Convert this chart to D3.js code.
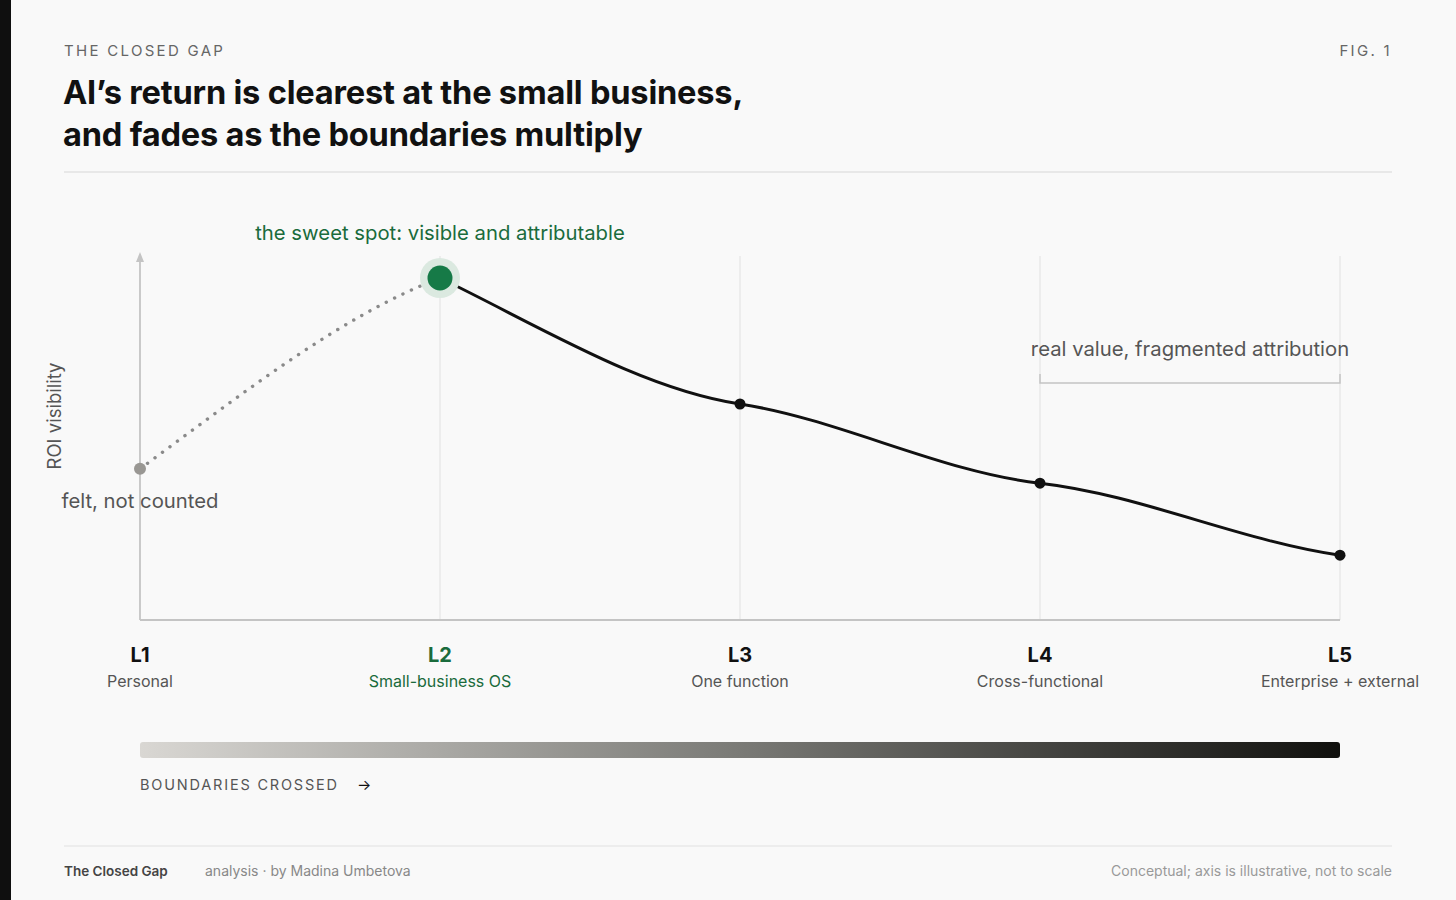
<!DOCTYPE html>
<html><head><meta charset="utf-8">
<script src="https://cdn.jsdelivr.net/npm/d3@7/dist/d3.min.js"></script>
<style>
html,body{margin:0;padding:0;background:#f9f9f9;}
svg{display:block;font-family:Inter,"Noto Sans",sans-serif;}
</style></head>
<body>
<svg id="c" width="1456" height="900"></svg>
<script>
const levels = ["L1","L2","L3","L4","L5"];
const levelNames = ["Personal","Small-business OS","One function","Cross-functional","Enterprise + external"];
const roiVisibility = [42, 95, 60, 38, 18];
const titleLines = ["AI’s return is clearest at the small business,","and fades as the boundaries multiply"];

const svg = d3.select("#c");
const W = 1456, H = 900;
svg.append("rect").attr("width",W).attr("height",H).attr("fill","#f9f9f9");
svg.append("rect").attr("width",11).attr("height",H).attr("fill","#0f0f0f");
const defs = svg.append("defs");

// eased hermite curve (gentle tangents at the points)
function easedCurve(context){
  let p;
  const START_K = 1.15, END_K = 0.6, INNER_K = 0.45;
  return {
    areaStart(){}, areaEnd(){},
    lineStart(){ p = []; },
    point(x,y){ p.push([+x,+y]); },
    lineEnd(){
      const n = p.length; if(!n) return;
      const m = p.map((q,i)=>{
        if(n===1) return 0;
        if(i===0) return START_K*(p[1][1]-q[1])/(p[1][0]-q[0]);
        if(i===n-1) return END_K*(q[1]-p[i-1][1])/(q[0]-p[i-1][0]);
        return INNER_K*(p[i+1][1]-p[i-1][1])/(p[i+1][0]-p[i-1][0]);
      });
      context.moveTo(p[0][0],p[0][1]);
      for(let i=1;i<n;i++){
        const [x0,y0]=p[i-1],[x1,y1]=p[i],dx=x1-x0;
        context.bezierCurveTo(x0+dx/3,y0+m[i-1]*dx/3,x1-dx/3,y1-m[i]*dx/3,x1,y1);
      }
    }
  };
}

// header
svg.append("text").attr("x",64).attr("y",56).attr("font-size",15).attr("letter-spacing",2.3).attr("fill","#666").text("THE CLOSED GAP");
svg.append("text").attr("x",1392).attr("y",56).attr("text-anchor","end").attr("font-size",15).attr("letter-spacing",2.3).attr("fill","#666").text("FIG. 1");
svg.append("text").attr("font-size",32.6).attr("font-weight",700).attr("fill","#111").attr("letter-spacing",-0.2)
  .selectAll("tspan").data(titleLines).join("tspan").attr("x",63).attr("y",(d,i)=>104+i*42).text(d=>d);
svg.append("line").attr("x1",64).attr("x2",1392).attr("y1",172).attr("y2",172).attr("stroke","#e2e2e2").attr("stroke-width",1.5);

// scales
const x = d3.scalePoint().domain(levels).range([140,1340]);
const y = d3.scaleLinear().domain([0,100]).range([620,260]);
const pts = levels.map((l,i)=>({l, name:levelNames[i], v:roiVisibility[i]}));

// gridlines
svg.append("g").selectAll("line").data(levels.slice(1)).join("line")
  .attr("x1",d=>x(d)).attr("x2",d=>x(d)).attr("y1",256).attr("y2",620)
  .attr("stroke","#e8e8e8").attr("stroke-width",1.5);

// axes
svg.append("line").attr("x1",140).attr("x2",1340).attr("y1",620).attr("y2",620).attr("stroke","#c4c4c4").attr("stroke-width",1.8);
svg.append("line").attr("x1",140).attr("x2",140).attr("y1",620).attr("y2",262).attr("stroke","#c4c4c4").attr("stroke-width",1.8);
svg.append("path").attr("d","M140,252 L136,262 L144,262 Z").attr("fill","#c4c4c4");
svg.append("text").attr("transform","translate(61,416) rotate(-90)").attr("text-anchor","middle").attr("font-size",18.5).attr("fill","#555").text("ROI visibility");

// bracket
const bx1 = x("L4"), bx2 = x("L5");
svg.append("path").attr("d",`M${bx1},374 V383 H${bx2} V374`).attr("fill","none").attr("stroke","#c4c4c4").attr("stroke-width",1.5);
svg.append("text").attr("x",(bx1+bx2)/2).attr("y",356).attr("text-anchor","middle").attr("font-size",20.3).attr("fill","#555").text("real value, fragmented attribution");

// dotted segment L1->L2
const line = d3.line().x(d=>x(d.l)).y(d=>y(d.v)).curve(easedCurve);
defs.append("clipPath").attr("id","clipL").append("rect").attr("x",0).attr("y",0).attr("width",x("L2")-14).attr("height",H);
svg.append("path").attr("d",line(pts.slice(0,2))).attr("clip-path","url(#clipL)")
  .attr("fill","none").attr("stroke","#8a8a8a").attr("stroke-width",3.4).attr("stroke-linecap","round").attr("stroke-dasharray","0.1 9.2");

// solid segment L2..L5
svg.append("path").attr("d",line(pts.slice(1))).attr("fill","none").attr("stroke","#111").attr("stroke-width",3);

// points
svg.append("circle").attr("cx",x("L1")).attr("cy",y(pts[0].v)).attr("r",6).attr("fill","#999793");
svg.append("circle").attr("cx",x("L2")).attr("cy",y(pts[1].v)).attr("r",20).attr("fill","#dbe9e0");
svg.append("circle").attr("cx",x("L2")).attr("cy",y(pts[1].v)).attr("r",12.5).attr("fill","#167a47");
svg.append("g").selectAll("circle").data(pts.slice(2)).join("circle")
  .attr("cx",d=>x(d.l)).attr("cy",d=>y(d.v)).attr("r",5.5).attr("fill","#111");

// annotations
svg.append("text").attr("x",x("L2")).attr("y",240).attr("text-anchor","middle").attr("font-size",20.3).attr("fill","#1a6b3c").text("the sweet spot: visible and attributable");
svg.append("text").attr("x",x("L1")).attr("y",508).attr("text-anchor","middle").attr("font-size",20.3).attr("fill","#555").text("felt, not counted");

// x labels
const xl = svg.append("g").selectAll("g").data(pts).join("g").attr("transform",d=>`translate(${x(d.l)},0)`);
xl.append("text").attr("y",662).attr("text-anchor","middle").attr("font-size",20).attr("font-weight",700)
  .attr("fill",d=>d.l==="L2"?"#1a6b3c":"#111").text(d=>d.l);
xl.append("text").attr("y",687).attr("text-anchor","middle").attr("font-size",16)
  .attr("fill",d=>d.l==="L2"?"#1a6b3c":"#555").text(d=>d.name);

// gradient bar
const grad = defs.append("linearGradient").attr("id","g1").attr("x1","0").attr("x2","1").attr("y1","0").attr("y2","0");
grad.append("stop").attr("offset","0").attr("stop-color","#d9d7d3");
grad.append("stop").attr("offset","0.5").attr("stop-color","#7a7a76");
grad.append("stop").attr("offset","1").attr("stop-color","#11110e");
svg.append("rect").attr("x",140).attr("y",742).attr("width",1200).attr("height",16).attr("rx",3).attr("fill","url(#g1)");
svg.append("text").attr("x",140).attr("y",790).attr("font-size",14.5).attr("letter-spacing",1.8).attr("fill","#555").text("BOUNDARIES CROSSED");
svg.append("text").attr("x",357).attr("y",790).attr("font-size",15).attr("fill","#111").text("→");

// footer
svg.append("line").attr("x1",64).attr("x2",1392).attr("y1",846).attr("y2",846).attr("stroke","#e8e8e8").attr("stroke-width",1.5);
svg.append("text").attr("x",64).attr("y",876).attr("font-size",13.5).attr("font-weight",600).attr("fill","#444").text("The Closed Gap");
svg.append("text").attr("x",205).attr("y",876).attr("font-size",14).attr("fill","#888").text("analysis · by Madina Umbetova");
svg.append("text").attr("x",1392).attr("y",876).attr("text-anchor","end").attr("font-size",14).attr("fill","#999").text("Conceptual; axis is illustrative, not to scale");
</script>
</body></html>
